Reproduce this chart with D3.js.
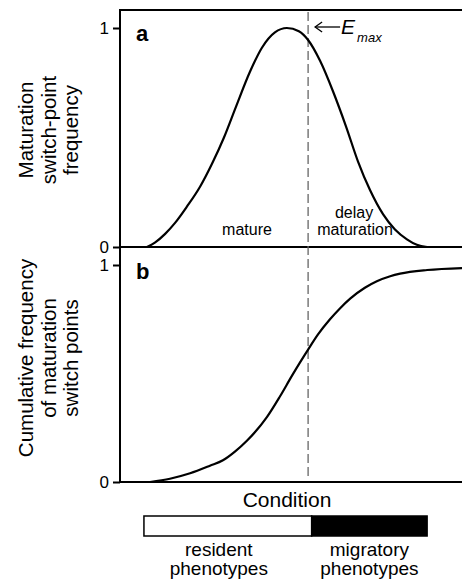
<!DOCTYPE html>
<html><head><meta charset="utf-8">
<script src="https://cdnjs.cloudflare.com/ajax/libs/d3/7.8.5/d3.min.js"></script>
<style>
html,body{margin:0;padding:0;background:#fff;}
svg{display:block;font-family:"Liberation Sans",Arial,sans-serif;}
</style></head>
<body><svg id="c" width="462" height="584"></svg>
<script>
// Condition (0-100 arbitrary units)
const conditionA = [7.9, 10.2, 13.2, 16.1, 19.6, 23.4, 26.9, 30.4, 33.9, 38.0, 41.5, 45.3, 48.8, 52.3, 55.0, 58.5, 62.3, 66.1, 69.6, 73.1, 76.9, 80.4, 83.9, 86.8, 89.8];
const frequencyA = [0, 0.02, 0.06, 0.11, 0.185, 0.275, 0.38, 0.50, 0.64, 0.80, 0.91, 0.98, 1.0, 0.985, 0.945, 0.85, 0.71, 0.55, 0.39, 0.26, 0.15, 0.08, 0.035, 0.01, 0];
const conditionB = [8.8, 14.6, 20.5, 26.3, 30.1, 33.6, 37.1, 43.0, 46.8, 50.3, 52.6, 55.0, 57.9, 61.4, 64.3, 67.3, 71.6, 75.1, 79.0, 81.9, 89.8, 100];
const cumulativeB = [0, 0.015, 0.04, 0.075, 0.10, 0.14, 0.19, 0.30, 0.395, 0.49, 0.55, 0.61, 0.68, 0.75, 0.80, 0.845, 0.895, 0.925, 0.948, 0.96, 0.977, 0.986];
const eMax = 55.0;
const yTicks = [0, 1];
const phenotypeNames = [["resident", "phenotypes"], ["migratory", "phenotypes"]];
const phenotypeStart = [7.0, 56.05];
const phenotypeEnd = [56.05, 89.8];
const phenotypeFill = ["#ffffff", "#000000"];

const svg = d3.select("#c");
const x = d3.scaleLinear().domain([0, 100]).range([120, 462]);
const yA = d3.scaleLinear().domain([0, 1]).range([247, 28]);
const yB = d3.scaleLinear().domain([0, 1]).range([482, 265]);

// frame lines
svg.append("line").attr("x1", 120).attr("x2", 462).attr("y1", 10).attr("y2", 10)
  .attr("stroke", "#000").attr("stroke-width", 2);
svg.append("line").attr("x1", 120).attr("x2", 120).attr("y1", 9).attr("y2", 483)
  .attr("stroke", "#000").attr("stroke-width", 2);

function yAxis(scale) {
  const g = svg.append("g").attr("transform", "translate(120,0)")
    .call(d3.axisLeft(scale).tickValues(yTicks).tickFormat(d3.format("d")).tickSize(7).tickPadding(4));
  g.select(".domain").remove();
  g.selectAll(".tick line").attr("stroke", "#000").attr("stroke-width", 2);
  g.selectAll(".tick text").attr("font-size", 17).attr("fill", "#000")
    .attr("font-family", "Liberation Sans, Arial, sans-serif");
}
yAxis(yA);
yAxis(yB);

// x axis lines (baselines)
svg.append("line").attr("x1", 120).attr("x2", 462).attr("y1", yA(0)).attr("y2", yA(0))
  .attr("stroke", "#000").attr("stroke-width", 2);
svg.append("line").attr("x1", 120).attr("x2", 462).attr("y1", yB(0)).attr("y2", yB(0))
  .attr("stroke", "#000").attr("stroke-width", 2);

// dashed Emax line
svg.append("line").attr("x1", x(eMax)).attr("x2", x(eMax)).attr("y1", 12).attr("y2", 480)
  .attr("stroke", "#666").attr("stroke-width", 1.3).attr("stroke-dasharray", "9,4");

// curves
const lineA = d3.line().x((d, i) => x(conditionA[i])).y(d => yA(d)).curve(d3.curveMonotoneX);
svg.append("path").attr("d", lineA(frequencyA)).attr("fill", "none").attr("stroke", "#000").attr("stroke-width", 2.2);
const lineB = d3.line().x((d, i) => x(conditionB[i])).y(d => yB(d)).curve(d3.curveMonotoneX);
svg.append("path").attr("d", lineB(cumulativeB)).attr("fill", "none").attr("stroke", "#000").attr("stroke-width", 2.2);

// panel letters
svg.append("text").attr("x", 136).attr("y", 41).attr("font-size", 22).attr("font-weight", "bold").text("a");
svg.append("text").attr("x", 136).attr("y", 279).attr("font-size", 22).attr("font-weight", "bold").text("b");

// Emax annotation
const ay = 27, ax0 = x(eMax) + 7, ax1 = x(eMax) + 32;
svg.append("line").attr("x1", ax0).attr("x2", ax1).attr("y1", ay).attr("y2", ay).attr("stroke", "#000").attr("stroke-width", 1.3);
svg.append("path").attr("d", `M${ax0 + 7},${ay - 5}L${ax0},${ay}L${ax0 + 7},${ay + 5}`)
  .attr("fill", "none").attr("stroke", "#000").attr("stroke-width", 1.3);
const et = svg.append("text").attr("x", ax1 + 1).attr("y", 34).attr("font-size", 21).attr("font-style", "italic");
et.append("tspan").text("E");
et.append("tspan").attr("font-size", 13).attr("dy", 8).attr("dx", 2).text("max");

// region labels
svg.append("text").attr("x", 247).attr("y", 235).attr("font-size", 16).attr("text-anchor", "middle").text("mature");
svg.append("text").attr("x", 354).attr("y", 218).attr("font-size", 16).attr("text-anchor", "middle").text("delay");
svg.append("text").attr("x", 355).attr("y", 235).attr("font-size", 16).attr("text-anchor", "middle").text("maturation");

// y labels
function yLabel(lines, cy) {
  const t = svg.append("text").attr("transform", `translate(33,${cy}) rotate(-90)`)
    .attr("font-size", 20.5).attr("text-anchor", "middle");
  lines.forEach((l, i) => t.append("tspan").attr("x", 0).attr("dy", i === 0 ? 0 : 22.5).text(l));
}
yLabel(["Maturation", "switch-point", "frequency"], 130);
yLabel(["Cumulative frequency", "of maturation", "switch points"], 358);

// x label
svg.append("text").attr("x", 287).attr("y", 507).attr("font-size", 21).attr("text-anchor", "middle").text("Condition");

// phenotype bar
phenotypeStart.forEach((s, i) => {
  svg.append("rect").attr("x", x(s)).attr("y", 516).attr("width", x(phenotypeEnd[i]) - x(s)).attr("height", 20)
    .attr("fill", phenotypeFill[i]).attr("stroke", "#000").attr("stroke-width", 1.5);
  const cx = (x(s) + x(phenotypeEnd[i])) / 2 + (i === 0 ? -9 : 0);
  const t = svg.append("text").attr("font-size", 19).attr("text-anchor", "middle");
  phenotypeNames[i].forEach((l, j) => t.append("tspan").attr("x", cx).attr("y", 556 + j * 19).text(l));
});
</script></body></html>
